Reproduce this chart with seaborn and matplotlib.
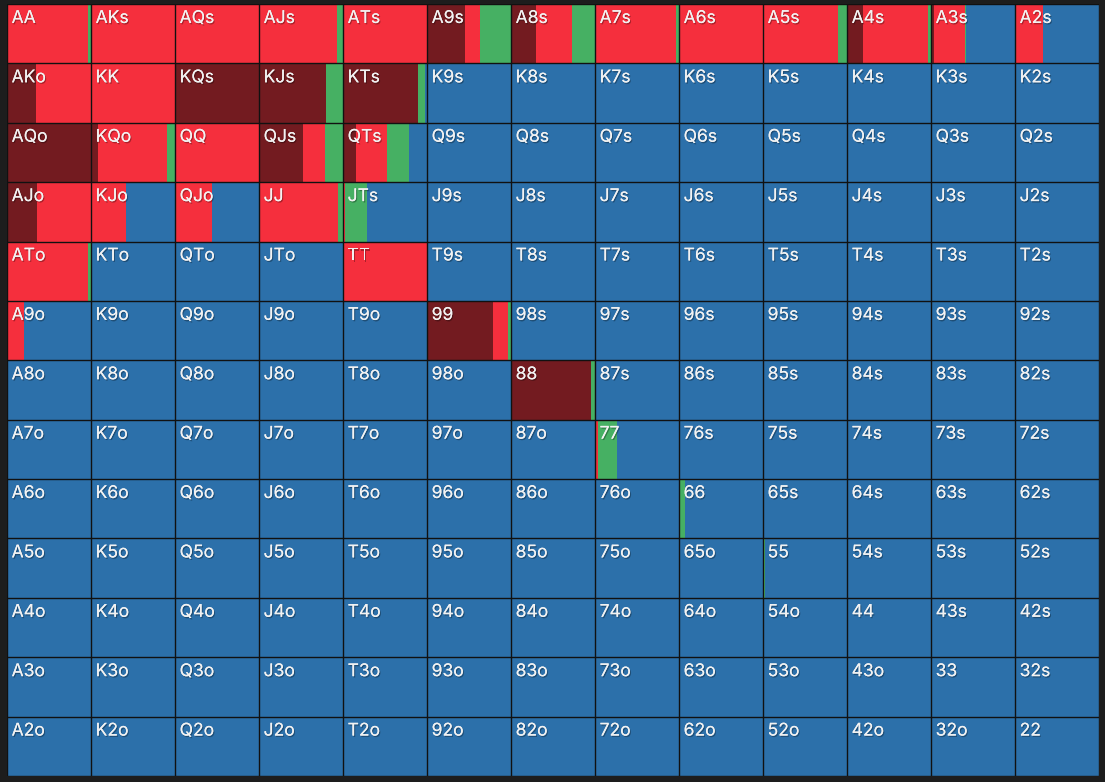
import matplotlib
matplotlib.use("Agg")
import matplotlib.pyplot as plt
import matplotlib.patheffects as pe
import seaborn as sns
import pandas as pd

ranks = ["A", "K", "Q", "J", "T", "9", "8", "7", "6", "5", "4", "3", "2"]
actions = ["allin", "raise", "call", "fold"]
colors = {"allin": "#731b20", "raise": "#f52f3d", "call": "#46b063", "fold": "#2c70aa"}

# fractions (fold = remainder)
allin = {"A9s": 0.45, "A8s": 0.30, "A4s": 0.19, "A3s": 0.035, "AKo": 0.35, "KQs": 1.0,
         "KJs": 0.80, "KTs": 0.89, "AQo": 1.0, "KQo": 0.08, "QJs": 0.52, "QTs": 0.15,
         "AJo": 0.36, "99": 0.79, "88": 0.95}
raise_ = {"AA": 0.965, "AKs": 1.0, "AQs": 1.0, "AJs": 0.93, "ATs": 1.0, "A9s": 0.18,
          "A8s": 0.43, "A7s": 0.96, "A6s": 1.0, "A5s": 0.89, "A4s": 0.77, "A3s": 0.37,
          "A2s": 0.33, "AKo": 0.65, "KK": 1.0, "KQo": 0.83, "QQ": 1.0, "QJs": 0.26,
          "QTs": 0.37, "AJo": 0.64, "KJo": 0.42, "QJo": 0.44, "JJ": 0.94, "JTs": 0.02,
          "ATo": 0.97, "TT": 1.0, "A9o": 0.20, "99": 0.18, "77": 0.03}
call = {"AA": 0.035, "AJs": 0.07, "A9s": 0.37, "A8s": 0.27, "A7s": 0.04, "A5s": 0.11,
        "A4s": 0.04, "A3s": 0.01, "KJs": 0.20, "KTs": 0.09, "KQo": 0.09, "QJs": 0.22,
        "QTs": 0.26, "JJ": 0.06, "JTs": 0.27, "ATo": 0.03, "99": 0.03, "88": 0.05,
        "77": 0.23, "66": 0.07, "55": 0.025}


def hand_label(r, c):
    if r == c:
        return ranks[r] * 2
    if c > r:
        return ranks[r] + ranks[c] + "s"
    return ranks[c] + ranks[r] + "o"


rows = []
for r in range(13):
    for c in range(13):
        h = hand_label(r, c)
        a = allin.get(h, 0.0)
        rs = raise_.get(h, 0.0)
        cl = call.get(h, 0.0)
        fd = max(0.0, 1.0 - a - rs - cl)
        rows.append(dict(hand=h, row=r, col=c, allin=a, raise_=rs, call=cl, fold=fd))
df = pd.DataFrame(rows)

sns.set_theme(style="white")
plt.rcParams["font.family"] = ["Inter", "DejaVu Sans"]

W, H = 1105, 782
fig = plt.figure(figsize=(W / 100, H / 100), dpi=100, facecolor="#1d1d1d")
ax = fig.add_axes([7 / W, 6 / H, 1092 / W, 772 / H])
ax.set_facecolor("#2c70aa")

left = df["col"].astype(float).copy()
for act, key in [("allin", "allin"), ("raise", "raise_"), ("call", "call"), ("fold", "fold")]:
    w = df[key]
    ax.barh(df["row"] + 0.5, w, left=left, height=1.0, color=colors[act],
            linewidth=0, align="center")
    left = left + w

for i in range(14):
    ax.axvline(i, color="#111111", lw=1.0)
    ax.axhline(i, color="#111111", lw=1.0)

shadow = [pe.withSimplePatchShadow(offset=(0.8, -1.0), shadow_rgbFace="black", alpha=0.3), pe.Normal()]
for _, rr in df.iterrows():
    ax.text(rr["col"] + 0.055, rr["row"] + 0.10, rr["hand"], color="#f2f2f2",
            fontsize=12.6, fontweight="normal", va="top", ha="left", path_effects=shadow)

ax.set_xlim(0, 13)
ax.set_ylim(13, 0)
ax.set_xticks([])
ax.set_yticks([])
for s in ax.spines.values():
    s.set_visible(False)

fig.savefig("out.png", dpi=100, facecolor=fig.get_facecolor())
